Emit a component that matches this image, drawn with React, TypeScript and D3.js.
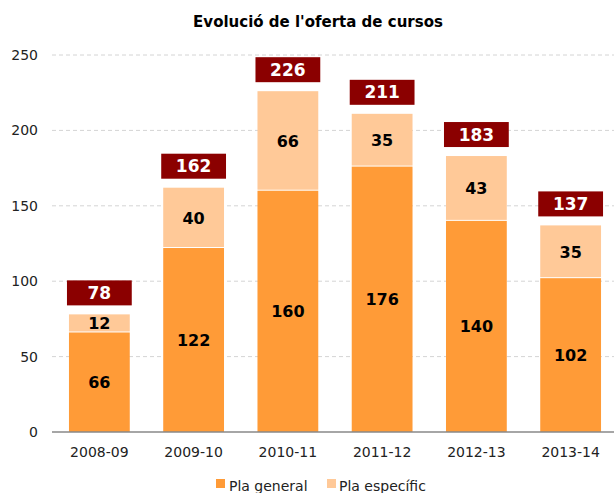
import React from "react";
import * as d3 from "d3";

const categories = ["2008-09", "2009-10", "2010-11", "2011-12", "2012-13", "2013-14"];
const plaGeneral = [66, 122, 160, 176, 140, 102];
const plaEspecific = [12, 40, 66, 35, 43, 35];
const totals = [78, 162, 226, 211, 183, 137];
const yTicks = [0, 50, 100, 150, 200, 250];
const seriesNames = ["Pla general", "Pla específic"];

const W = 614, H = 493;
const FONT = "'DejaVu Sans', Verdana, sans-serif";
const C_GEN = "#FF9B37";
const C_ESP = "#FFC998";
const C_TOT = "#8B0000";

export default function App() {
  const x = d3.scaleBand<string>().domain(categories).range([52, 618]).paddingInner(0.355).paddingOuter(0.18);
  const y = d3.scaleLinear().domain([0, 250]).range([432, 55]);
  const bw = x.bandwidth();
  return (
    <svg width={W} height={H} style={{ position: "absolute", left: 0, top: 0, background: "#fff" }} fontFamily={FONT}>
      <text x={318} y={27} textAnchor="middle" fontSize={15} fontWeight="bold">Evolució de l'oferta de cursos</text>
      {yTicks.map((t) => (
        <g key={t}>
          {t > 0 && <line x1={52} x2={614} y1={y(t)} y2={y(t)} stroke="#D4D4D4" strokeDasharray="4,3" />}
          <text x={38} y={y(t) + 5} textAnchor="end" fontSize={14} fill="#222">{t}</text>
        </g>
      ))}
      {categories.map((c, i) => {
        const x0 = x(c)!;
        const g = plaGeneral[i], e = plaEspecific[i];
        const cx = x0 + bw / 2;
        return (
          <g key={c}>
            <rect x={x0} y={y(g)} width={bw} height={y(0) - y(g)} fill={C_GEN} />
            <rect x={x0} y={y(g + e)} width={bw} height={y(g) - y(g + e) - 1} fill={C_ESP} />
            <text x={cx} y={(y(0) + y(g)) / 2 + 6} textAnchor="middle" fontSize={16} fontWeight="bold">{g}</text>
            <text x={cx} y={(y(g) + y(g + e)) / 2 + 6} textAnchor="middle" fontSize={16} fontWeight="bold">{e}</text>
            <rect x={x0 - 2} y={y(totals[i]) - 34} width={bw + 4} height={25} fill={C_TOT} />
            <text x={cx} y={y(totals[i]) - 15.5} textAnchor="middle" fontSize={17} fontWeight="bold" fill="#fff">{totals[i]}</text>
            <text x={cx} y={457} textAnchor="middle" fontSize={14} fill="#222">{c}</text>
          </g>
        );
      })}
      <line x1={52} x2={614} y1={y(0)} y2={y(0)} stroke="#888" strokeWidth={1.5} />
      <rect x={216} y={479} width={9} height={9} fill={C_GEN} />
      <text x={229} y={491} fontSize={14} fill="#222">{seriesNames[0]}</text>
      <rect x={327} y={479} width={9} height={9} fill={C_ESP} />
      <text x={339} y={491} fontSize={14} fill="#222">{seriesNames[1]}</text>
    </svg>
  );
}
